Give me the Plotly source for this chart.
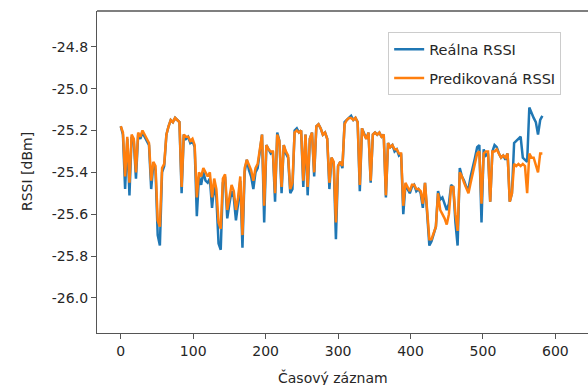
import plotly.graph_objects as go

# Sample index (every 3rd record)
casovy_zaznam = list(range(0, 585, 3))

realna_rssi = [
    -25.18, -25.22, -25.48, -25.24, -25.51, -25.23, -25.25, -25.43, -25.22, -25.24,
    -25.21, -25.23, -25.25, -25.27, -25.48, -25.36, -25.39, -25.70, -25.75, -25.40,
    -25.37, -25.22, -25.18, -25.15, -25.16, -25.14, -25.15, -25.16, -25.50, -25.22,
    -25.24, -25.23, -25.26, -25.25, -25.28, -25.61, -25.42, -25.46, -25.40, -25.44,
    -25.45, -25.43, -25.57, -25.46, -25.52, -25.74, -25.77, -25.45, -25.42, -25.62,
    -25.55, -25.49, -25.52, -25.63, -25.55, -25.44, -25.76, -25.40, -25.34, -25.39,
    -25.42, -25.48, -25.40, -25.38, -25.30, -25.22, -25.64, -25.27, -25.29, -25.31,
    -25.30, -25.54, -25.21, -25.25, -25.50, -25.27, -25.31, -25.33, -25.50, -25.48,
    -25.20, -25.19, -25.21, -25.20, -25.47, -25.22, -25.51, -25.24, -25.21, -25.42,
    -25.18, -25.17, -25.19, -25.22, -25.21, -25.24, -25.48, -25.33, -25.36, -25.72,
    -25.37, -25.35, -25.38, -25.16, -25.15, -25.14, -25.13, -25.15, -25.14, -25.16,
    -25.49, -25.19, -25.22, -25.24, -25.21, -25.45, -25.22, -25.21, -25.22, -25.21,
    -25.23, -25.22, -25.52, -25.26, -25.28, -25.27, -25.30, -25.29, -25.32, -25.31,
    -25.60, -25.46, -25.48, -25.50, -25.47, -25.46, -25.49, -25.48, -25.50, -25.57,
    -25.45, -25.62, -25.75, -25.73, -25.70, -25.66, -25.49, -25.53, -25.52, -25.55,
    -25.58, -25.55, -25.46, -25.47, -25.64, -25.75, -25.38, -25.42, -25.44, -25.47,
    -25.48, -25.42, -25.38, -25.33, -25.28, -25.27, -25.64, -25.29, -25.32, -25.31,
    -25.54, -25.30, -25.27, -25.28, -25.31, -25.33, -25.32, -25.34, -25.31, -25.54,
    -25.50, -25.26, -25.25, -25.24, -25.23, -25.33, -25.34, -25.35, -25.09, -25.12,
    -25.14, -25.16, -25.22, -25.15, -25.13,
]

predikovana_rssi = [
    -25.18, -25.21, -25.42, -25.23, -25.45, -25.22, -25.24, -25.40, -25.21, -25.23,
    -25.20, -25.22, -25.24, -25.26, -25.44, -25.35, -25.37, -25.63, -25.66, -25.38,
    -25.36, -25.22, -25.18, -25.15, -25.16, -25.14, -25.15, -25.16, -25.47, -25.22,
    -25.23, -25.23, -25.25, -25.24, -25.27, -25.52, -25.40, -25.42, -25.38, -25.40,
    -25.42, -25.40, -25.52, -25.43, -25.48, -25.64, -25.67, -25.43, -25.41, -25.58,
    -25.51, -25.46, -25.49, -25.58, -25.52, -25.42, -25.70, -25.38, -25.34, -25.37,
    -25.39, -25.44, -25.38, -25.36, -25.30, -25.22, -25.56, -25.27, -25.29, -25.30,
    -25.30, -25.50, -25.22, -25.25, -25.47, -25.27, -25.30, -25.32, -25.48, -25.45,
    -25.21, -25.20, -25.21, -25.20, -25.44, -25.22, -25.47, -25.24, -25.21, -25.40,
    -25.18, -25.17, -25.19, -25.22, -25.21, -25.24, -25.45, -25.33, -25.35, -25.64,
    -25.37, -25.35, -25.37, -25.17, -25.15, -25.14, -25.14, -25.15, -25.14, -25.16,
    -25.46, -25.19, -25.22, -25.24, -25.21, -25.44, -25.22, -25.21, -25.22, -25.21,
    -25.23, -25.22, -25.51, -25.26, -25.28, -25.27, -25.29, -25.29, -25.31, -25.31,
    -25.56, -25.45, -25.47, -25.49, -25.46, -25.46, -25.48, -25.48, -25.49, -25.55,
    -25.45, -25.60, -25.72, -25.72, -25.69, -25.66, -25.50, -25.58, -25.60, -25.62,
    -25.65, -25.60, -25.47, -25.47, -25.60, -25.68, -25.40, -25.42, -25.45, -25.48,
    -25.50, -25.45, -25.40, -25.35, -25.31, -25.30, -25.55, -25.31, -25.30, -25.30,
    -25.54, -25.30, -25.30, -25.29, -25.31, -25.33, -25.32, -25.33, -25.31, -25.54,
    -25.50, -25.36, -25.37, -25.36, -25.37, -25.36, -25.37, -25.50, -25.31, -25.33,
    -25.33, -25.36, -25.40, -25.31, -25.31,
]

x_ticks = [0, 100, 200, 300, 400, 500, 600]
y_ticks = [-26.0, -25.8, -25.6, -25.4, -25.2, -25.0, -24.8]
y_tick_text = ["-26.0", "-25.8", "-25.6", "-25.4", "-25.2", "-25.0", "-24.8"]

FONT = "DejaVu Sans"
AXIS_GREY = "#555555"
TEXT = "#262626"

fig = go.Figure()
fig.add_trace(go.Scatter(
    x=casovy_zaznam, y=realna_rssi, mode="lines", name="Reálna RSSI",
    line=dict(color="#1f77b4", width=2.5), legendgroup="a",
))
fig.add_trace(go.Scatter(
    x=casovy_zaznam, y=predikovana_rssi, mode="lines", name="Predikovaná RSSI",
    line=dict(color="#ff7f0e", width=2.5), legendgroup="b",
))

fig.update_layout(
    width=588, height=385,
    margin=dict(l=97, r=0, t=11, b=52),
    paper_bgcolor="white", plot_bgcolor="white",
    font=dict(family=FONT, size=14, color=TEXT),
    showlegend=True,
    legend=dict(
        x=0.593, y=0.934, xanchor="left", yanchor="top",
        bgcolor="white", bordercolor="#cccccc", borderwidth=1,
        font=dict(family=FONT, size=14.5, color=TEXT),
        tracegroupgap=7,
    ),
    xaxis=dict(
        range=[-32.8, 645], tickvals=x_ticks, showgrid=False, zeroline=False,
        showline=True, linecolor=AXIS_GREY, linewidth=1.3,
        ticks="outside", ticklen=5, tickcolor=AXIS_GREY, tickwidth=1.3,
        tickfont=dict(family=FONT, size=14, color=TEXT),
    ),
    yaxis=dict(
        range=[-26.168, -24.629], tickvals=y_ticks, ticktext=y_tick_text,
        showgrid=False, zeroline=False,
        showline=True, linecolor=AXIS_GREY, linewidth=1.3,
        ticks="outside", ticklen=5, tickcolor=AXIS_GREY, tickwidth=1.3,
        tickfont=dict(family=FONT, size=14, color=TEXT),
    ),
    shapes=[dict(type="line", xref="paper", yref="paper", x0=0, x1=1, y0=1, y1=1,
                 line=dict(color=AXIS_GREY, width=1.3))],
    annotations=[
        dict(text="RSSI [dBm]", xref="paper", yref="paper", x=0, y=0.5,
             xshift=-80, textangle=-90, showarrow=False,
             font=dict(family=FONT, size=14, color=TEXT)),
        dict(text="Časový záznam", xref="paper", yref="paper", x=0.48, y=0,
             yanchor="middle", yshift=-44, showarrow=False,
             font=dict(family=FONT, size=14, color=TEXT)),
    ],
)

fig.write_html("out.html")
